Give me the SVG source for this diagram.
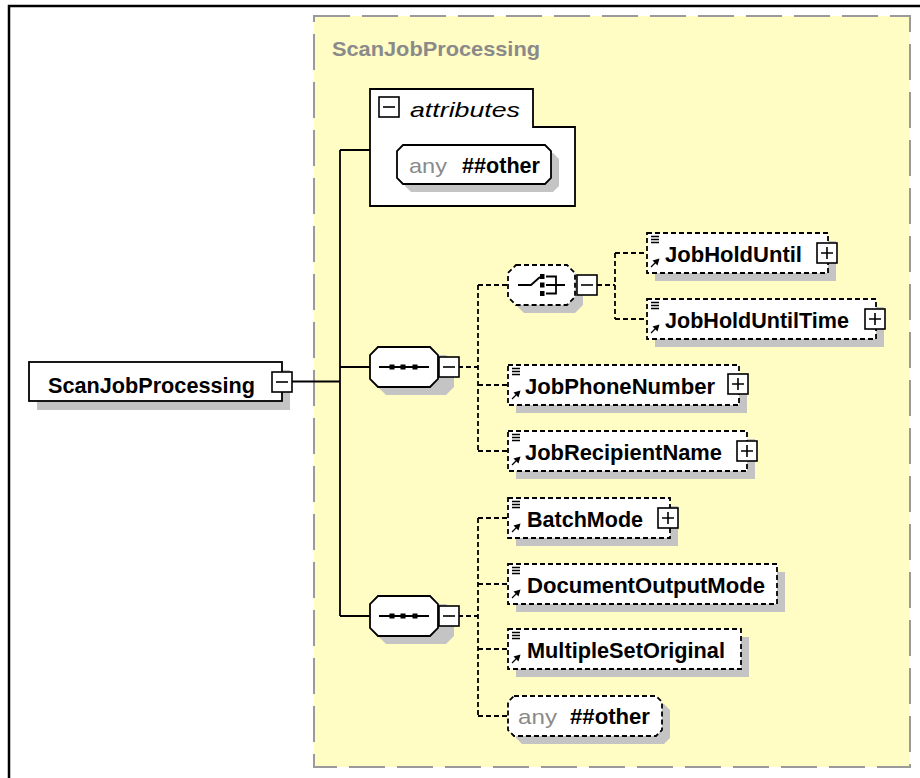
<svg xmlns="http://www.w3.org/2000/svg" width="920" height="778" viewBox="0 0 920 778">
  <style>
    .frame { fill: none; stroke: #000; stroke-width: 2.5; }
    .group { fill: #FFFCC4; stroke: #9A9A9A; stroke-width: 2; stroke-dasharray: 36 12; }
    .shadow { fill: #C4C4C4; }
    .box { fill: #fff; stroke: #000; stroke-width: 1.8; }
    .dbox { fill: #fff; stroke: #000; stroke-width: 1.8; stroke-dasharray: 5 3; }
    .ln { fill: none; stroke: #000; stroke-width: 1.8; }
    .dl { fill: none; stroke: #000; stroke-width: 1.8; stroke-dasharray: 5 3; }
    .t { font-family: "Liberation Sans", Arial, sans-serif; font-weight: bold; font-size: 22px; fill: #000; }
    .title { font-family: "Liberation Sans", Arial, sans-serif; font-weight: bold; font-size: 21px; fill: #8A8A8A; }
    .attr { font-family: "Liberation Sans", Arial, sans-serif; font-style: italic; font-size: 21px; fill: #000; }
    .any { font-family: "Liberation Sans", Arial, sans-serif; font-size: 21px; fill: #8A8A8A; }
    .deco { fill: none; stroke: #000; stroke-width: 1.3; }
  </style>
  <defs>
    <g id="plus">
      <rect x="0" y="0" width="20" height="20" fill="#fff" stroke="#000" stroke-width="1.6"/>
      <path d="M4 10H16M10 4V16" stroke="#000" stroke-width="1.6"/>
    </g>
    <g id="minus">
      <rect x="0" y="0" width="20" height="20" fill="#fff" stroke="#000" stroke-width="1.6"/>
      <path d="M4 10H16" stroke="#000" stroke-width="1.6"/>
    </g>
    <!-- element type marks: content lines + reference arrow -->
    <g id="elemMarks">
      <path class="deco" d="M4 3.5H12M4 6.5H12M4 9.5H12"/>
      <path class="deco" d="M4 34L9 29" stroke-width="1.8"/>
      <path d="M12.5 25.5L5.5 27.5L10.5 32.5Z" fill="#000"/>
    </g>
    <!-- sequence compositor -->
    <g id="seq">
      <path class="shadow" d="M16 8H76L84 16V40L76 48H16L8 40V16Z"/>
      <path class="box" d="M8 0H60L68 8V32L60 40H8L0 32V8Z"/>
      <path class="ln" d="M9 20H59"/>
      <rect x="19.5" y="17.5" width="5" height="5"/>
      <rect x="30.5" y="17.5" width="5" height="5"/>
      <rect x="42.5" y="17.5" width="5" height="5"/>
    </g>
  </defs>

  <!-- page frame -->
  <path class="frame" d="M9 778V6H920"/>

  <!-- complex type group -->
  <g id="ScanJobProcessing-type">
    <rect class="group" x="314" y="16" width="596" height="751"/>
    <text class="title" x="332" y="56" textLength="208" lengthAdjust="spacingAndGlyphs">ScanJobProcessing</text>
  </g>

  <!-- connectors -->
  <g id="connectors">
    <path class="ln" d="M292 381.5H340M340 150V616M340 150H370M340 367H370M340 616H370"/>
    <path class="dl" d="M458 367H478M478 285V451M478 285H508M478 385H508M478 451H508"/>
    <path class="dl" d="M597 285H615M615 253V319M615 253H647M615 319H647"/>
    <path class="dl" d="M458 616H478M478 518V716M478 518H508M478 584H508M478 649H508M478 716H508"/>
  </g>

  <!-- root element -->
  <g id="root">
    <rect class="shadow" x="37" y="370" width="253" height="40"/>
    <rect class="box" x="29" y="362" width="253" height="39"/>
    <text class="t" x="48" y="393" textLength="207" lengthAdjust="spacingAndGlyphs">ScanJobProcessing</text>
    <use href="#minus" x="272" y="372"/>
  </g>

  <!-- attributes -->
  <g id="attributes">
    <path class="box" d="M370 89H533V127H575V206H370Z"/>
    <use href="#minus" x="379" y="97"/>
    <text class="attr" x="410" y="117" textLength="110" lengthAdjust="spacingAndGlyphs">attributes</text>
    <path class="shadow" d="M411 153H553L559 159V186L553 192H411L405 186V159Z"/>
    <path class="box" d="M403 145H545L551 151V178L545 184H403L397 178V151Z"/>
    <text class="any" x="409" y="173" textLength="38" lengthAdjust="spacingAndGlyphs">any</text>
    <text class="t" x="462" y="173" font-size="21" textLength="78" lengthAdjust="spacingAndGlyphs">##other</text>
  </g>

  <!-- first sequence -->
  <g id="sequence1">
    <use href="#seq" x="370" y="347"/>
    <use href="#minus" x="439" y="357"/>
  </g>

  <!-- choice -->
  <g id="choice">
    <path class="shadow" d="M524 273H575L583 281V305L575 313H524L516 305V281Z"/>
    <path class="dbox" d="M516 265H567L575 273V297L567 305H516L508 297V273Z"/>
    <path class="ln" d="M518 285H531L540 277"/>
    <rect x="540" y="274" width="4.5" height="5"/>
    <rect x="540" y="282.5" width="4.5" height="5"/>
    <rect x="540" y="291" width="4.5" height="5"/>
    <path class="ln" d="M546 276.5H556V293.5H546M546 285H565"/>
    <use href="#minus" x="577" y="275"/>
  </g>

  <g id="JobHoldUntil">
    <rect class="shadow" x="655" y="241" width="181" height="40"/>
    <rect class="dbox" x="647" y="233" width="181" height="40"/>
    <use href="#elemMarks" x="647" y="233"/>
    <text class="t" x="665" y="262" textLength="137" lengthAdjust="spacingAndGlyphs">JobHoldUntil</text>
    <use href="#plus" x="817" y="243"/>
  </g>

  <g id="JobHoldUntilTime">
    <rect class="shadow" x="655" y="307" width="229" height="40"/>
    <rect class="dbox" x="647" y="299" width="229" height="40"/>
    <use href="#elemMarks" x="647" y="299"/>
    <text class="t" x="665" y="328" textLength="184" lengthAdjust="spacingAndGlyphs">JobHoldUntilTime</text>
    <use href="#plus" x="865" y="309"/>
  </g>

  <g id="JobPhoneNumber">
    <rect class="shadow" x="516" y="373" width="231" height="40"/>
    <rect class="dbox" x="508" y="365" width="231" height="40"/>
    <use href="#elemMarks" x="508" y="365"/>
    <text class="t" x="525" y="394" textLength="190" lengthAdjust="spacingAndGlyphs">JobPhoneNumber</text>
    <use href="#plus" x="728" y="374"/>
  </g>

  <g id="JobRecipientName">
    <rect class="shadow" x="516" y="439" width="239" height="40"/>
    <rect class="dbox" x="508" y="431" width="239" height="40"/>
    <use href="#elemMarks" x="508" y="431"/>
    <text class="t" x="525" y="460" textLength="197" lengthAdjust="spacingAndGlyphs">JobRecipientName</text>
    <use href="#plus" x="737" y="441"/>
  </g>

  <!-- second sequence -->
  <g id="sequence2">
    <use href="#seq" x="370" y="596"/>
    <use href="#minus" x="439" y="606"/>
  </g>

  <g id="BatchMode">
    <rect class="shadow" x="516" y="506" width="162" height="40"/>
    <rect class="dbox" x="508" y="498" width="162" height="40"/>
    <use href="#elemMarks" x="508" y="498"/>
    <text class="t" x="527" y="527" textLength="116" lengthAdjust="spacingAndGlyphs">BatchMode</text>
    <use href="#plus" x="658" y="508"/>
  </g>

  <g id="DocumentOutputMode">
    <rect class="shadow" x="516" y="572" width="269" height="40"/>
    <rect class="dbox" x="508" y="564" width="269" height="40"/>
    <use href="#elemMarks" x="508" y="564"/>
    <text class="t" x="527" y="593" textLength="238" lengthAdjust="spacingAndGlyphs">DocumentOutputMode</text>
  </g>

  <g id="MultipleSetOriginal">
    <rect class="shadow" x="516" y="637" width="233" height="40"/>
    <rect class="dbox" x="508" y="629" width="233" height="40"/>
    <use href="#elemMarks" x="508" y="629"/>
    <text class="t" x="527" y="658" textLength="198" lengthAdjust="spacingAndGlyphs">MultipleSetOriginal</text>
  </g>

  <g id="anyOther">
    <path class="shadow" d="M522 704H664L670 710V738L664 744H522L516 738V710Z"/>
    <path class="dbox" d="M514 696H656L662 702V730L656 736H514L508 730V702Z"/>
    <text class="any" x="518" y="724" textLength="39" lengthAdjust="spacingAndGlyphs">any</text>
    <text class="t" x="570" y="724" font-size="21" textLength="80" lengthAdjust="spacingAndGlyphs">##other</text>
  </g>
</svg>
